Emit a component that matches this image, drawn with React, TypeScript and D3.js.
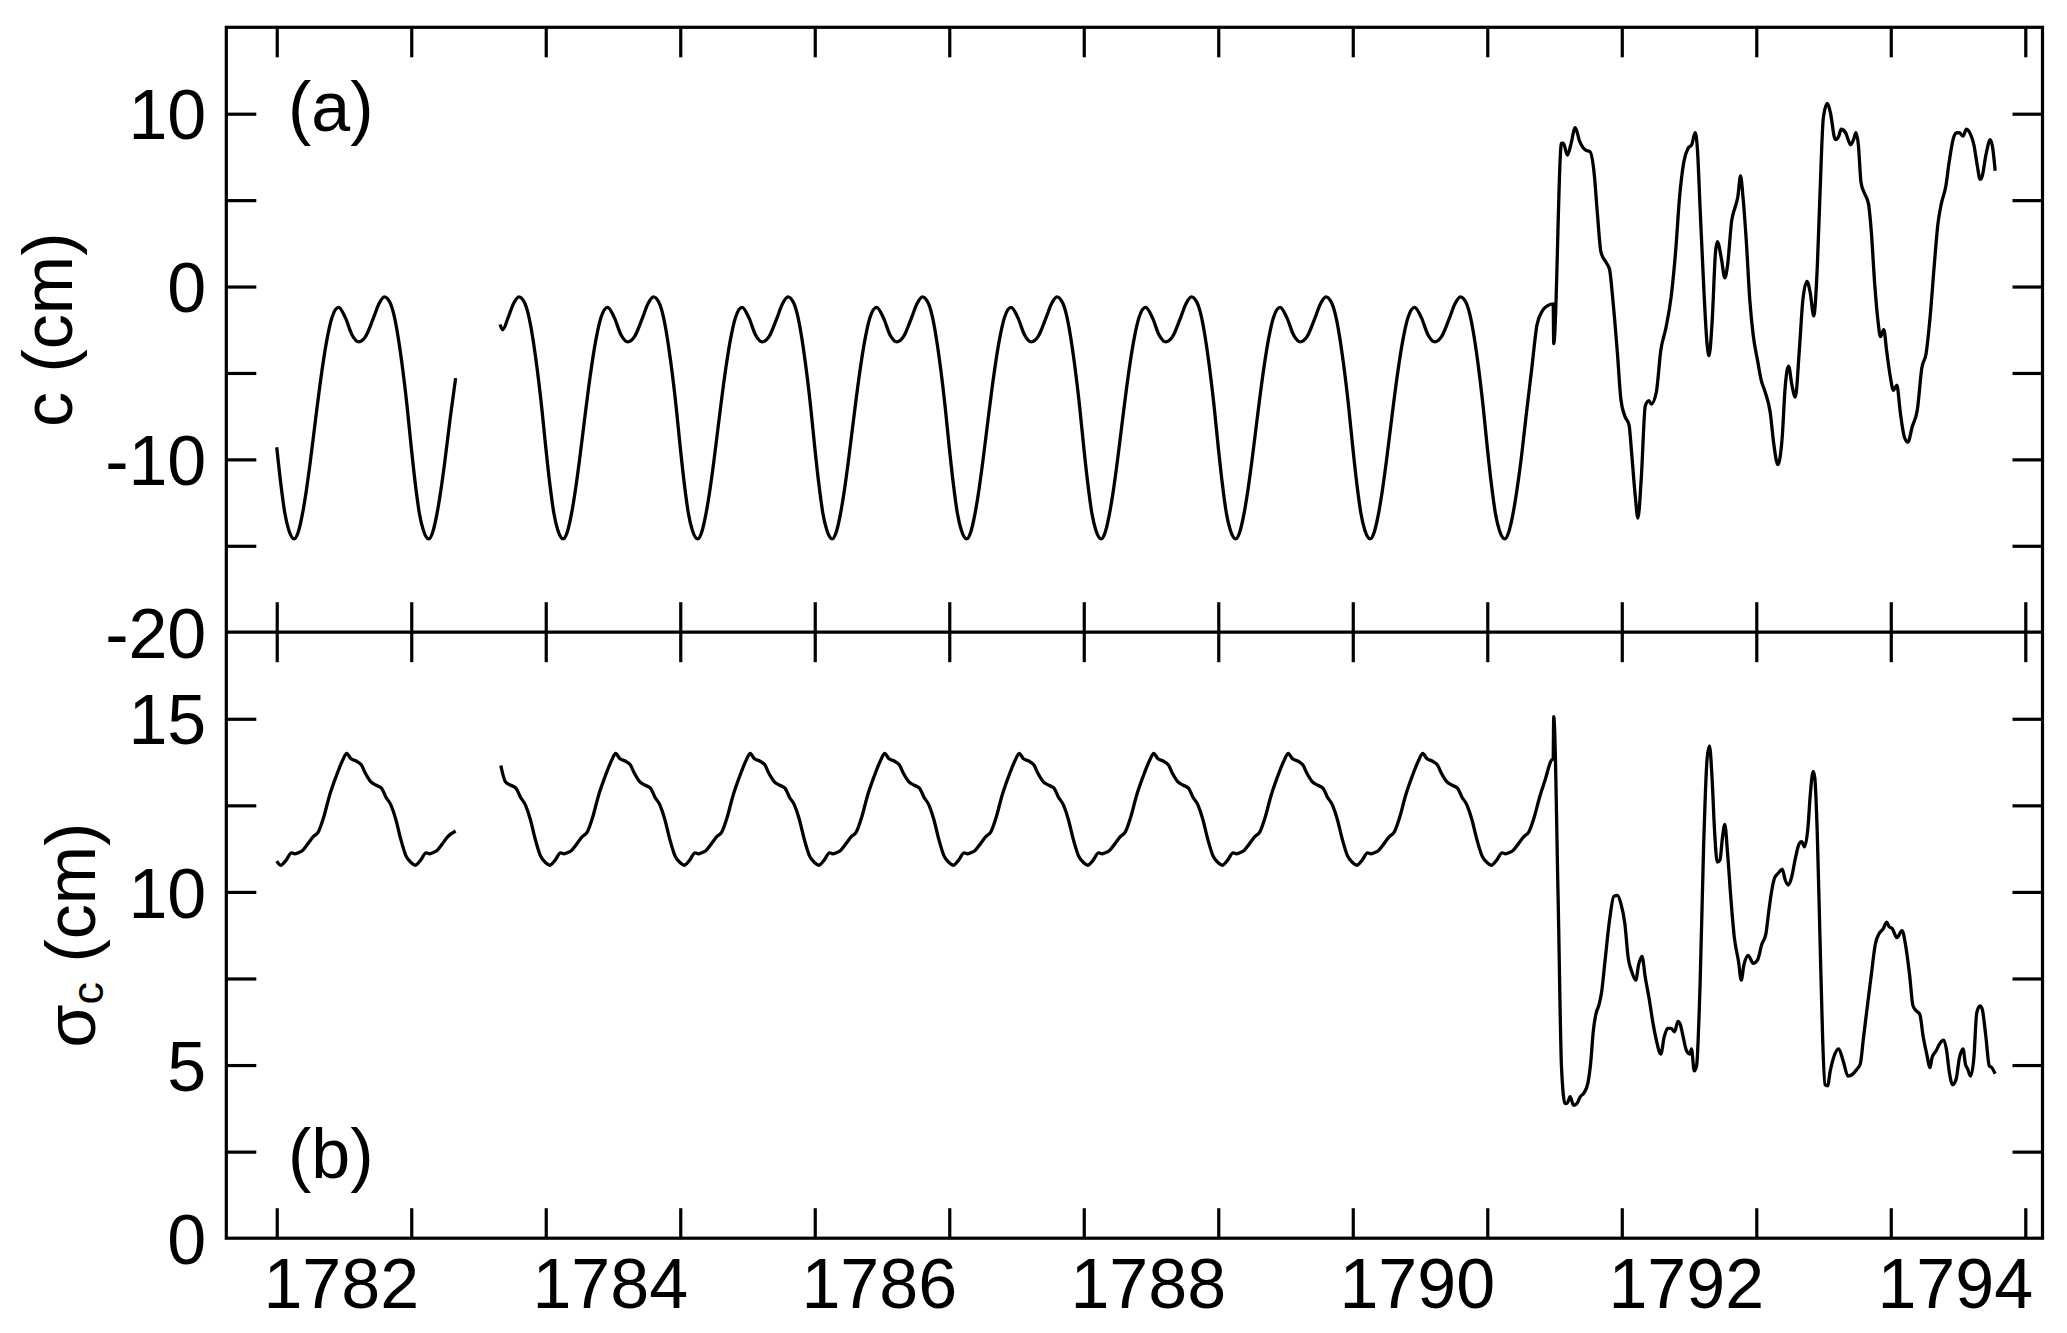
import React, { useEffect, useRef } from 'react';
import * as d3 from 'd3';

// axis ticks and labels
const yearTicks = [1782, 1783, 1784, 1785, 1786, 1787, 1788, 1789, 1790, 1791, 1792, 1793, 1794, 1795];
const yearLabels = [1782, 1784, 1786, 1788, 1790, 1792, 1794];
const cTicks = [-15, -10, -5, 0, 5, 10];
const cLabels = [-20, -10, 0, 10];
const sigmaTicks = [2.5, 5, 7.5, 10, 12.5, 15];
const sigmaLabels = [0, 5, 10, 15];

// (a) c in cm, first piece before the gap
const cSeg1 = [
  [1782.00,-9.3],[1782.03,-11.4],[1782.06,-13.1],[1782.09,-14.1],[1782.13,-14.6],[1782.16,-14.2],[1782.19,-13.2],[1782.22,-11.8],[1782.25,-10.1],[1782.29,-7.6],[1782.33,-5.2],[1782.37,-3.2],[1782.41,-1.8],[1782.46,-1.2],[1782.51,-1.8],[1782.56,-2.8],[1782.61,-3.2],[1782.66,-2.9],[1782.72,-1.8],[1782.76,-1.0],[1782.80,-0.6],[1782.84,-0.9],[1782.87,-1.6],[1782.90,-2.8],[1782.93,-4.4],[1782.97,-7.0],
  [1783.00,-9.3],[1783.03,-11.4],[1783.06,-13.1],[1783.09,-14.1],[1783.13,-14.6],[1783.16,-14.2],[1783.19,-13.2],[1783.22,-11.8],[1783.25,-10.1],[1783.29,-7.6],[1783.33,-5.3],
];

// (a) c in cm, after the gap
const cSeg2 = [
  [1783.66,-2.2],[1783.68,-2.5],[1783.72,-1.8],[1783.76,-1.0],[1783.80,-0.6],[1783.84,-0.9],[1783.87,-1.6],[1783.90,-2.8],[1783.93,-4.4],[1783.97,-7.0],
  [1784.00,-9.3],[1784.03,-11.4],[1784.06,-13.1],[1784.09,-14.1],[1784.13,-14.6],[1784.16,-14.2],[1784.19,-13.2],[1784.22,-11.8],[1784.25,-10.1],[1784.29,-7.6],[1784.33,-5.2],[1784.37,-3.2],[1784.41,-1.8],[1784.46,-1.2],[1784.51,-1.8],[1784.56,-2.8],[1784.61,-3.2],[1784.66,-2.9],[1784.72,-1.8],[1784.76,-1.0],[1784.80,-0.6],[1784.84,-0.9],[1784.87,-1.6],[1784.90,-2.8],[1784.93,-4.4],[1784.97,-7.0],
  [1785.00,-9.3],[1785.03,-11.4],[1785.06,-13.1],[1785.09,-14.1],[1785.13,-14.6],[1785.16,-14.2],[1785.19,-13.2],[1785.22,-11.8],[1785.25,-10.1],[1785.29,-7.6],[1785.33,-5.2],[1785.37,-3.2],[1785.41,-1.8],[1785.46,-1.2],[1785.51,-1.8],[1785.56,-2.8],[1785.61,-3.2],[1785.66,-2.9],[1785.72,-1.8],[1785.76,-1.0],[1785.80,-0.6],[1785.84,-0.9],[1785.87,-1.6],[1785.90,-2.8],[1785.93,-4.4],[1785.97,-7.0],
  [1786.00,-9.3],[1786.03,-11.4],[1786.06,-13.1],[1786.09,-14.1],[1786.13,-14.6],[1786.16,-14.2],[1786.19,-13.2],[1786.22,-11.8],[1786.25,-10.1],[1786.29,-7.6],[1786.33,-5.2],[1786.37,-3.2],[1786.41,-1.8],[1786.46,-1.2],[1786.51,-1.8],[1786.56,-2.8],[1786.61,-3.2],[1786.66,-2.9],[1786.72,-1.8],[1786.76,-1.0],[1786.80,-0.6],[1786.84,-0.9],[1786.87,-1.6],[1786.90,-2.8],[1786.93,-4.4],[1786.97,-7.0],
  [1787.00,-9.3],[1787.03,-11.4],[1787.06,-13.1],[1787.09,-14.1],[1787.13,-14.6],[1787.16,-14.2],[1787.19,-13.2],[1787.22,-11.8],[1787.25,-10.1],[1787.29,-7.6],[1787.33,-5.2],[1787.37,-3.2],[1787.41,-1.8],[1787.46,-1.2],[1787.51,-1.8],[1787.56,-2.8],[1787.61,-3.2],[1787.66,-2.9],[1787.72,-1.8],[1787.76,-1.0],[1787.80,-0.6],[1787.84,-0.9],[1787.87,-1.6],[1787.90,-2.8],[1787.93,-4.4],[1787.97,-7.0],
  [1788.00,-9.3],[1788.03,-11.4],[1788.06,-13.1],[1788.09,-14.1],[1788.13,-14.6],[1788.16,-14.2],[1788.19,-13.2],[1788.22,-11.8],[1788.25,-10.1],[1788.29,-7.6],[1788.33,-5.2],[1788.37,-3.2],[1788.41,-1.8],[1788.46,-1.2],[1788.51,-1.8],[1788.56,-2.8],[1788.61,-3.2],[1788.66,-2.9],[1788.72,-1.8],[1788.76,-1.0],[1788.80,-0.6],[1788.84,-0.9],[1788.87,-1.6],[1788.90,-2.8],[1788.93,-4.4],[1788.97,-7.0],
  [1789.00,-9.3],[1789.03,-11.4],[1789.06,-13.1],[1789.09,-14.1],[1789.13,-14.6],[1789.16,-14.2],[1789.19,-13.2],[1789.22,-11.8],[1789.25,-10.1],[1789.29,-7.6],[1789.33,-5.2],[1789.37,-3.2],[1789.41,-1.8],[1789.46,-1.2],[1789.51,-1.8],[1789.56,-2.8],[1789.61,-3.2],[1789.66,-2.9],[1789.72,-1.8],[1789.76,-1.0],[1789.80,-0.6],[1789.84,-0.9],[1789.87,-1.6],[1789.90,-2.8],[1789.93,-4.4],[1789.97,-7.0],
  [1790.00,-9.3],[1790.03,-11.4],[1790.06,-13.1],[1790.09,-14.1],[1790.13,-14.6],[1790.16,-14.2],[1790.19,-13.2],[1790.22,-11.8],[1790.25,-10.1],[1790.29,-7.6],[1790.33,-5.2],[1790.37,-3.2],[1790.41,-1.8],[1790.46,-1.2],[1790.51,-1.8],[1790.56,-2.8],[1790.61,-3.2],[1790.66,-2.9],[1790.72,-1.8],[1790.76,-1.0],[1790.80,-0.6],[1790.84,-0.9],[1790.87,-1.6],[1790.90,-2.8],[1790.93,-4.4],[1790.97,-7.0],
  [1791.00,-9.3],[1791.03,-11.4],[1791.06,-13.1],[1791.09,-14.1],[1791.13,-14.6],[1791.16,-14.2],[1791.19,-13.2],[1791.22,-11.8],[1791.25,-10.1],[1791.29,-7.4],[1791.33,-4.8],[1791.37,-2.2],[1791.41,-1.4],[1791.45,-1.1],[1791.49,-1.0],
  [1791.494,-3.3],[1791.552,8.3],[1791.565,8.3],[1791.596,7.6],[1791.621,8.2],[1791.654,9.2],[1791.687,8.4],[1791.73,7.9],[1791.764,7.8],[1791.794,6.6],[1791.819,4.2],[1791.845,2.0],[1791.883,1.4],[1791.909,1.0],[1791.934,-0.8],[1791.968,-3.9],[1791.993,-6.5],
  [1792.023,-7.5],[1792.054,-8.0],[1792.074,-9.7],[1792.1,-12.1],[1792.12,-13.4],[1792.145,-11.1],[1792.175,-6.9],[1792.202,-6.6],[1792.22,-6.8],[1792.257,-6.1],[1792.29,-3.7],[1792.328,-2.4],[1792.367,-0.6],[1792.4,2.0],[1792.43,5.2],[1792.461,7.2],[1792.493,8.0],[1792.52,8.2],[1792.545,8.9],[1792.562,8.0],[1792.582,4.6],[1792.608,0.2],[1792.634,-3.3],[1792.649,-4.0],[1792.672,-2.0],[1792.697,2.0],[1792.71,2.6],[1792.741,1.6],[1792.766,0.5],[1792.786,1.2],[1792.817,3.8],[1792.843,4.6],[1792.863,5.2],[1792.883,6.4],[1792.901,5.2],[1792.926,2.6],[1792.952,-0.8],[1792.977,-2.8],
  [1793.01,-4.3],[1793.036,-5.4],[1793.066,-6.1],[1793.104,-7.3],[1793.13,-9.1],[1793.16,-10.3],[1793.193,-8.7],[1793.214,-5.9],[1793.24,-4.6],[1793.265,-5.7],[1793.29,-6.4],[1793.32,-3.7],[1793.346,-0.8],[1793.377,0.3],[1793.402,-0.4],[1793.427,-1.7],[1793.454,1.2],[1793.473,5.2],[1793.499,9.8],[1793.529,10.6],[1793.55,10.1],[1793.588,8.5],[1793.613,8.7],[1793.631,9.1],[1793.664,8.9],[1793.702,8.2],[1793.723,8.5],[1793.741,8.9],[1793.759,8.2],[1793.779,6.0],[1793.804,5.4],[1793.834,4.8],[1793.855,3.2],[1793.88,0.2],[1793.905,-2.0],[1793.923,-2.9],[1793.948,-2.5],[1793.969,-3.7],[1793.994,-5.1],
  [1794.02,-6.0],[1794.045,-5.7],[1794.071,-7.3],[1794.101,-8.7],[1794.127,-9.0],[1794.16,-8.1],[1794.198,-7.1],[1794.231,-4.7],[1794.262,-3.9],[1794.292,-1.8],[1794.325,1.4],[1794.35,3.6],[1794.376,4.8],[1794.409,5.8],[1794.434,7.2],[1794.466,8.6],[1794.491,8.9],[1794.51,8.9],[1794.537,8.7],[1794.562,9.1],[1794.593,8.8],[1794.618,8.2],[1794.643,7.0],[1794.664,6.2],[1794.68,6.4],[1794.707,7.6],[1794.74,8.5],[1794.758,8.0],[1794.776,6.7],
];

// (b) sigma_c in cm, first piece before the gap
const sigmaSeg1 = [
  [1782.00,10.89],[1782.03,10.77],[1782.07,10.92],[1782.11,11.13],[1782.135,11.10],[1782.16,11.13],[1782.19,11.19],[1782.23,11.38],[1782.27,11.59],[1782.31,11.74],[1782.35,12.17],[1782.39,12.75],[1782.44,13.32],[1782.49,13.8],[1782.52,14.0],[1782.55,13.85],[1782.59,13.78],[1782.63,13.66],[1782.66,13.42],[1782.70,13.18],[1782.74,13.08],[1782.78,12.99],[1782.81,12.75],[1782.85,12.5],[1782.885,12.1],[1782.92,11.55],[1782.96,11.05],
  [1783.00,10.84],[1783.03,10.77],[1783.07,10.92],[1783.11,11.13],[1783.135,11.10],[1783.16,11.13],[1783.19,11.19],[1783.23,11.38],[1783.27,11.59],[1783.33,11.76],
];

// (b) sigma_c in cm, after the gap
const sigmaSeg2 = [
  [1783.666,13.65],[1783.70,13.18],[1783.74,13.08],[1783.78,12.99],[1783.81,12.75],[1783.85,12.5],[1783.885,12.1],[1783.92,11.55],[1783.96,11.05],
  [1784.00,10.84],[1784.03,10.77],[1784.07,10.92],[1784.11,11.13],[1784.135,11.10],[1784.16,11.13],[1784.19,11.19],[1784.23,11.38],[1784.27,11.59],[1784.31,11.74],[1784.35,12.17],[1784.39,12.75],[1784.44,13.32],[1784.49,13.8],[1784.52,14.0],[1784.55,13.85],[1784.59,13.78],[1784.63,13.66],[1784.66,13.42],[1784.70,13.18],[1784.74,13.08],[1784.78,12.99],[1784.81,12.75],[1784.85,12.5],[1784.885,12.1],[1784.92,11.55],[1784.96,11.05],
  [1785.00,10.84],[1785.03,10.77],[1785.07,10.92],[1785.11,11.13],[1785.135,11.10],[1785.16,11.13],[1785.19,11.19],[1785.23,11.38],[1785.27,11.59],[1785.31,11.74],[1785.35,12.17],[1785.39,12.75],[1785.44,13.32],[1785.49,13.8],[1785.52,14.0],[1785.55,13.85],[1785.59,13.78],[1785.63,13.66],[1785.66,13.42],[1785.70,13.18],[1785.74,13.08],[1785.78,12.99],[1785.81,12.75],[1785.85,12.5],[1785.885,12.1],[1785.92,11.55],[1785.96,11.05],
  [1786.00,10.84],[1786.03,10.77],[1786.07,10.92],[1786.11,11.13],[1786.135,11.10],[1786.16,11.13],[1786.19,11.19],[1786.23,11.38],[1786.27,11.59],[1786.31,11.74],[1786.35,12.17],[1786.39,12.75],[1786.44,13.32],[1786.49,13.8],[1786.52,14.0],[1786.55,13.85],[1786.59,13.78],[1786.63,13.66],[1786.66,13.42],[1786.70,13.18],[1786.74,13.08],[1786.78,12.99],[1786.81,12.75],[1786.85,12.5],[1786.885,12.1],[1786.92,11.55],[1786.96,11.05],
  [1787.00,10.84],[1787.03,10.77],[1787.07,10.92],[1787.11,11.13],[1787.135,11.10],[1787.16,11.13],[1787.19,11.19],[1787.23,11.38],[1787.27,11.59],[1787.31,11.74],[1787.35,12.17],[1787.39,12.75],[1787.44,13.32],[1787.49,13.8],[1787.52,14.0],[1787.55,13.85],[1787.59,13.78],[1787.63,13.66],[1787.66,13.42],[1787.70,13.18],[1787.74,13.08],[1787.78,12.99],[1787.81,12.75],[1787.85,12.5],[1787.885,12.1],[1787.92,11.55],[1787.96,11.05],
  [1788.00,10.84],[1788.03,10.77],[1788.07,10.92],[1788.11,11.13],[1788.135,11.10],[1788.16,11.13],[1788.19,11.19],[1788.23,11.38],[1788.27,11.59],[1788.31,11.74],[1788.35,12.17],[1788.39,12.75],[1788.44,13.32],[1788.49,13.8],[1788.52,14.0],[1788.55,13.85],[1788.59,13.78],[1788.63,13.66],[1788.66,13.42],[1788.70,13.18],[1788.74,13.08],[1788.78,12.99],[1788.81,12.75],[1788.85,12.5],[1788.885,12.1],[1788.92,11.55],[1788.96,11.05],
  [1789.00,10.84],[1789.03,10.77],[1789.07,10.92],[1789.11,11.13],[1789.135,11.10],[1789.16,11.13],[1789.19,11.19],[1789.23,11.38],[1789.27,11.59],[1789.31,11.74],[1789.35,12.17],[1789.39,12.75],[1789.44,13.32],[1789.49,13.8],[1789.52,14.0],[1789.55,13.85],[1789.59,13.78],[1789.63,13.66],[1789.66,13.42],[1789.70,13.18],[1789.74,13.08],[1789.78,12.99],[1789.81,12.75],[1789.85,12.5],[1789.885,12.1],[1789.92,11.55],[1789.96,11.05],
  [1790.00,10.84],[1790.03,10.77],[1790.07,10.92],[1790.11,11.13],[1790.135,11.10],[1790.16,11.13],[1790.19,11.19],[1790.23,11.38],[1790.27,11.59],[1790.31,11.74],[1790.35,12.17],[1790.39,12.75],[1790.44,13.32],[1790.49,13.8],[1790.52,14.0],[1790.55,13.85],[1790.59,13.78],[1790.63,13.66],[1790.66,13.42],[1790.70,13.18],[1790.74,13.08],[1790.78,12.99],[1790.81,12.75],[1790.85,12.5],[1790.885,12.1],[1790.92,11.55],[1790.96,11.05],
  [1791.00,10.84],[1791.03,10.77],[1791.07,10.92],[1791.11,11.13],[1791.135,11.10],[1791.16,11.13],[1791.19,11.19],[1791.23,11.38],[1791.27,11.59],[1791.31,11.74],[1791.35,12.17],[1791.39,12.75],[1791.43,13.23],[1791.476,13.8],[1791.49,13.85],
  [1791.494,15.06],[1791.527,9.77],[1791.552,4.93],[1791.578,3.89],[1791.595,3.9],[1791.616,4.09],[1791.641,3.84],[1791.666,3.89],[1791.692,4.09],[1791.718,4.19],[1791.748,4.48],[1791.768,5.03],[1791.789,6.01],[1791.807,6.46],[1791.832,6.76],[1791.85,7.1],[1791.875,7.99],[1791.909,9.18],[1791.941,9.87],[1791.967,9.9],[1791.993,9.67],
  [1792.023,9.08],[1792.048,8.09],[1792.074,7.7],[1792.104,7.45],[1792.125,7.89],[1792.15,8.14],[1792.176,7.5],[1792.202,6.95],[1792.232,6.21],[1792.257,5.72],[1792.29,5.32],[1792.316,5.82],[1792.341,6.06],[1792.367,6.06],[1792.392,5.96],[1792.418,6.26],[1792.436,6.16],[1792.456,5.82],[1792.481,5.42],[1792.506,5.32],[1792.518,5.47],[1792.539,4.83],[1792.556,4.97],[1792.582,7.3],[1792.608,11.25],[1792.634,13.83],[1792.652,14.22],[1792.672,13.23],[1792.69,11.75],[1792.71,10.86],[1792.73,10.92],[1792.748,11.55],[1792.766,11.95],[1792.786,11.15],[1792.812,9.77],[1792.837,8.68],[1792.868,7.99],[1792.888,7.45],[1792.908,7.89],[1792.939,8.17],[1792.977,7.94],
  [1793.01,8.04],[1793.041,8.49],[1793.071,8.78],[1793.091,9.38],[1793.112,9.97],[1793.137,10.41],[1793.168,10.56],[1793.193,10.66],[1793.214,10.36],[1793.239,10.2],[1793.265,10.46],[1793.29,10.96],[1793.32,11.4],[1793.338,11.45],[1793.358,11.3],[1793.384,11.85],[1793.402,12.83],[1793.423,13.48],[1793.435,13.3],[1793.453,11.75],[1793.473,8.78],[1793.493,5.82],[1793.511,4.43],[1793.53,4.4],[1793.55,4.83],[1793.575,5.22],[1793.613,5.47],[1793.646,5.12],[1793.682,4.68],[1793.715,4.73],[1793.748,4.88],[1793.773,5.03],[1793.798,5.82],[1793.829,6.8],[1793.855,7.6],[1793.885,8.49],[1793.911,8.78],[1793.943,8.93],[1793.969,9.13],[1793.987,9.0],
  [1794.013,8.93],[1794.045,8.68],[1794.084,8.88],[1794.109,8.49],[1794.14,7.6],[1794.165,6.71],[1794.191,6.56],[1794.216,6.46],[1794.241,5.82],[1794.267,5.32],[1794.292,4.93],[1794.307,5.22],[1794.338,5.42],[1794.364,5.62],[1794.394,5.72],[1794.415,5.42],[1794.434,4.83],[1794.46,4.43],[1794.485,4.58],[1794.511,5.22],[1794.537,5.47],[1794.555,5.03],[1794.572,4.88],[1794.593,4.68],[1794.618,5.22],[1794.639,6.51],[1794.664,6.71],[1794.68,6.61],[1794.707,5.82],[1794.732,4.98],[1794.75,4.93],[1794.776,4.75],
];

const W = 2067;
const H = 1333;
const FONT = '"Liberation Sans", Arial, Helvetica, sans-serif';

export default function App() {
  const svgRef = useRef<SVGSVGElement>(null);

  useEffect(() => {
    const svg = d3.select(svgRef.current);
    svg.selectAll('*').remove();

    const left = 226.3, right = 2042.5, top = 27.3, mid = 632.2, bottom = 1238.2;

    const x = d3.scaleLinear().domain([1781.625, 1795.128]).range([left, right]);
    const yC = d3.scaleLinear().domain([-20, 15]).range([mid, top]);
    const yS = d3.scaleLinear().domain([0, 17.5]).range([bottom, mid]);

    // tick marks only, all pointing into the panels
    const marks = (axis: any, tx: number, ty: number) => {
      const g = svg.append('g').attr('transform', `translate(${tx},${ty})`).call(axis);
      g.select('.domain').remove();
      g.selectAll('text').remove();
      g.selectAll('line').attr('stroke', '#000').attr('stroke-width', 3.2);
    };
    const noText = () => '';
    marks(d3.axisBottom(x).tickValues(yearTicks).tickSize(30).tickFormat(noText), 0, top);
    marks(d3.axisTop(x).tickValues(yearTicks).tickSize(30).tickFormat(noText), 0, mid);
    marks(d3.axisBottom(x).tickValues(yearTicks).tickSize(30).tickFormat(noText), 0, mid);
    marks(d3.axisTop(x).tickValues(yearTicks).tickSize(30).tickFormat(noText), 0, bottom);
    marks(d3.axisRight(yC).tickValues(cTicks).tickSize(30).tickFormat(noText), left, 0);
    marks(d3.axisLeft(yC).tickValues(cTicks).tickSize(30).tickFormat(noText), right, 0);
    marks(d3.axisRight(yS).tickValues(sigmaTicks).tickSize(30).tickFormat(noText), left, 0);
    marks(d3.axisLeft(yS).tickValues(sigmaTicks).tickSize(30).tickFormat(noText), right, 0);

    // tick labels
    const labels = (axis: any, tx: number, ty: number) => {
      const g = svg.append('g').attr('transform', `translate(${tx},${ty})`).call(axis);
      g.select('.domain').remove();
      g.selectAll('line').remove();
      g.attr('font-size', 70).attr('font-family', FONT);
      g.selectAll('text').attr('fill', '#000');
      return g;
    };
    labels(d3.axisLeft(yC).tickValues(cLabels).tickSize(0).tickPadding(20).tickFormat((d: any) => String(d)), left, 0)
      .selectAll('text').attr('dy', '0.36em');
    labels(d3.axisLeft(yS).tickValues(sigmaLabels).tickSize(0).tickPadding(20).tickFormat((d: any) => String(d)), left, 0)
      .selectAll('text').attr('dy', '0.36em');
    labels(d3.axisBottom(x).tickValues(yearLabels).tickSize(0).tickPadding(20).tickFormat((d: any) => String(d)), 0, bottom)
      .selectAll('text').attr('x', 64);

    // frame and panel divider
    svg.append('rect')
      .attr('x', left).attr('y', top)
      .attr('width', right - left).attr('height', bottom - top)
      .attr('fill', 'none').attr('stroke', '#000').attr('stroke-width', 3.2);
    svg.append('line')
      .attr('x1', left).attr('x2', right).attr('y1', mid).attr('y2', mid)
      .attr('stroke', '#000').attr('stroke-width', 3.2);

    // series
    const lineC = d3.line<number[]>().x(d => x(d[0])).y(d => yC(d[1])).curve(d3.curveMonotoneX);
    const lineS = d3.line<number[]>().x(d => x(d[0])).y(d => yS(d[1])).curve(d3.curveMonotoneX);
    [cSeg1, cSeg2].forEach(seg => {
      svg.append('path').attr('d', lineC(seg)).attr('fill', 'none')
        .attr('stroke', '#000').attr('stroke-width', 3.3).attr('stroke-linejoin', 'round');
    });
    [sigmaSeg1, sigmaSeg2].forEach(seg => {
      svg.append('path').attr('d', lineS(seg)).attr('fill', 'none')
        .attr('stroke', '#000').attr('stroke-width', 3.3).attr('stroke-linejoin', 'round');
    });

    // panel tags
    svg.append('text').attr('x', 288).attr('y', 131)
      .attr('font-size', 70).attr('font-family', FONT).text('(a)');
    svg.append('text').attr('x', 288).attr('y', 1178)
      .attr('font-size', 70).attr('font-family', FONT).text('(b)');

    // axis titles
    svg.append('text')
      .attr('transform', `translate(72,${(top + mid) / 2}) rotate(-90)`)
      .attr('text-anchor', 'middle')
      .attr('font-size', 70).attr('font-family', FONT)
      .text('c (cm)');

    const sTitle = svg.append('text')
      .attr('transform', `translate(95,${(mid + bottom) / 2}) rotate(-90)`)
      .attr('text-anchor', 'middle')
      .attr('font-size', 70).attr('font-family', FONT);
    sTitle.append('tspan').text('σ');
    sTitle.append('tspan').attr('font-size', 45).attr('dy', 8).text('c');
    sTitle.append('tspan').attr('dy', -8).text(' (cm)');
  }, []);

  return (
    <svg
      ref={svgRef}
      width={W}
      height={H}
      style={{ position: 'absolute', left: 0, top: 0, background: '#fff' }}
    />
  );
}
